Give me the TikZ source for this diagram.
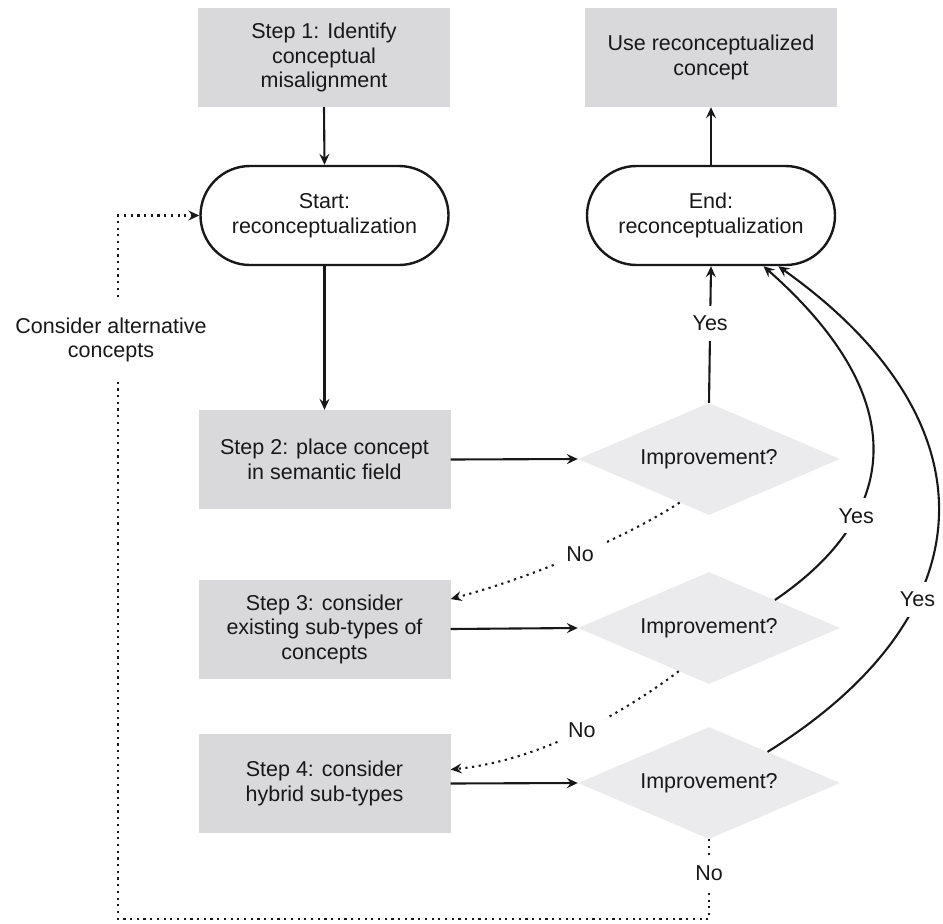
\documentclass[tikz,border=0pt]{standalone}
\usepackage{fontspec}
\setmainfont{Liberation Sans}
\usetikzlibrary{shapes.geometric,arrows.meta}
\definecolor{ink}{RGB}{24,24,26}
\definecolor{boxgray}{RGB}{217,217,219}
\definecolor{diagray}{RGB}{235,235,237}
\begin{document}
\begin{tikzpicture}[x=1pt,y=-1pt, font=\fontsize{21.5}{24.5}\selectfont, text=ink,
  stepbox/.style={rectangle, fill=boxgray, minimum width=252pt, minimum height=99pt, align=center, inner sep=0pt},
  term/.style={rectangle, rounded corners=49.5pt, draw=ink, line width=2.4pt, fill=white, minimum width=248pt, minimum height=99pt, align=center, inner sep=0pt},
  decide/.style={diamond, aspect=2.339, fill=diagray, minimum width=262pt, minimum height=112pt, inner sep=0pt},
  conn/.style={draw=ink, line width=2.1pt, -{Stealth[length=11pt,width=10pt,inset=4pt]}},
  dotconn/.style={conn, dash pattern=on 2.2pt off 4.5pt},
  lbl/.style={fill=white, inner sep=10pt},
]
\useasboundingbox (0,0) rectangle (943,924);

\node[stepbox] (s1) at (324,57.5) {Step 1: Identify\\conceptual\\misalignment};
\node[stepbox] (use) at (711,57.5) {Use reconceptualized\\concept};
\node[term] (start) at (324.5,215.5) {Start:\\reconceptualization};
\node[term] (end) at (711,215.5) {End:\\reconceptualization};
\node[stepbox] (s2) at (324.5,459.5) {Step 2: place concept\\in semantic field};
\node[stepbox] (s3) at (324.5,629) {Step 3: consider\\existing sub-types of\\concepts};
\node[stepbox] (s4) at (324.5,783.5) {Step 4: consider\\hybrid sub-types};
\node[decide] (d1) at (709,459) {Improvement?};
\node[decide] (d2) at (709,628) {Improvement?};
\node[decide] (d3) at (709,783) {Improvement?};

\draw[conn] (s1.south) -- (start.north);
\draw[conn] (end.north) -- (use.south);
\draw[conn] (start.south) -- (s2.north);
\draw[conn] (s2.east) -- (d1.west);
\draw[conn] (s3.east) -- (d2.west);
\draw[conn] (s4.east) -- (d3.west);

\draw[conn] (d1.north) -- node[lbl,pos=0.58] (y1) {Yes} (end.south);
\draw[conn] (d2.23) .. controls (900,515) and (915,400) .. node[lbl,pos=0.3] (y2) {Yes} (end.-44);
\draw[conn] (d3.28) .. controls (992,612) and (995,420) .. node[lbl,pos=0.33] (y3) {Yes} (end.-37);

\draw[dotconn] (d1.-124) .. controls (630,535) and (540,575) .. node[lbl] (n1) {No} ([yshift=30pt]s3.east);
\draw[dotconn] (d2.-125) .. controls (630,708) and (545,760) .. node[lbl] (n2) {No} ([yshift=14pt]s4.east);

\coordinate (br) at (709,919);
\coordinate (bl) at (118,919);
\coordinate (tl) at (118,215.5);
\draw[dotconn] (d3.south) -- node[lbl,pos=0.42] (n3) {No} (br) -- (bl) -- (tl) -- (start.west);
\node[fill=white, inner xsep=2pt, inner ysep=20pt, align=center] (alt) at (111,340) {Consider alternative\\concepts};
\end{tikzpicture}
\end{document}
